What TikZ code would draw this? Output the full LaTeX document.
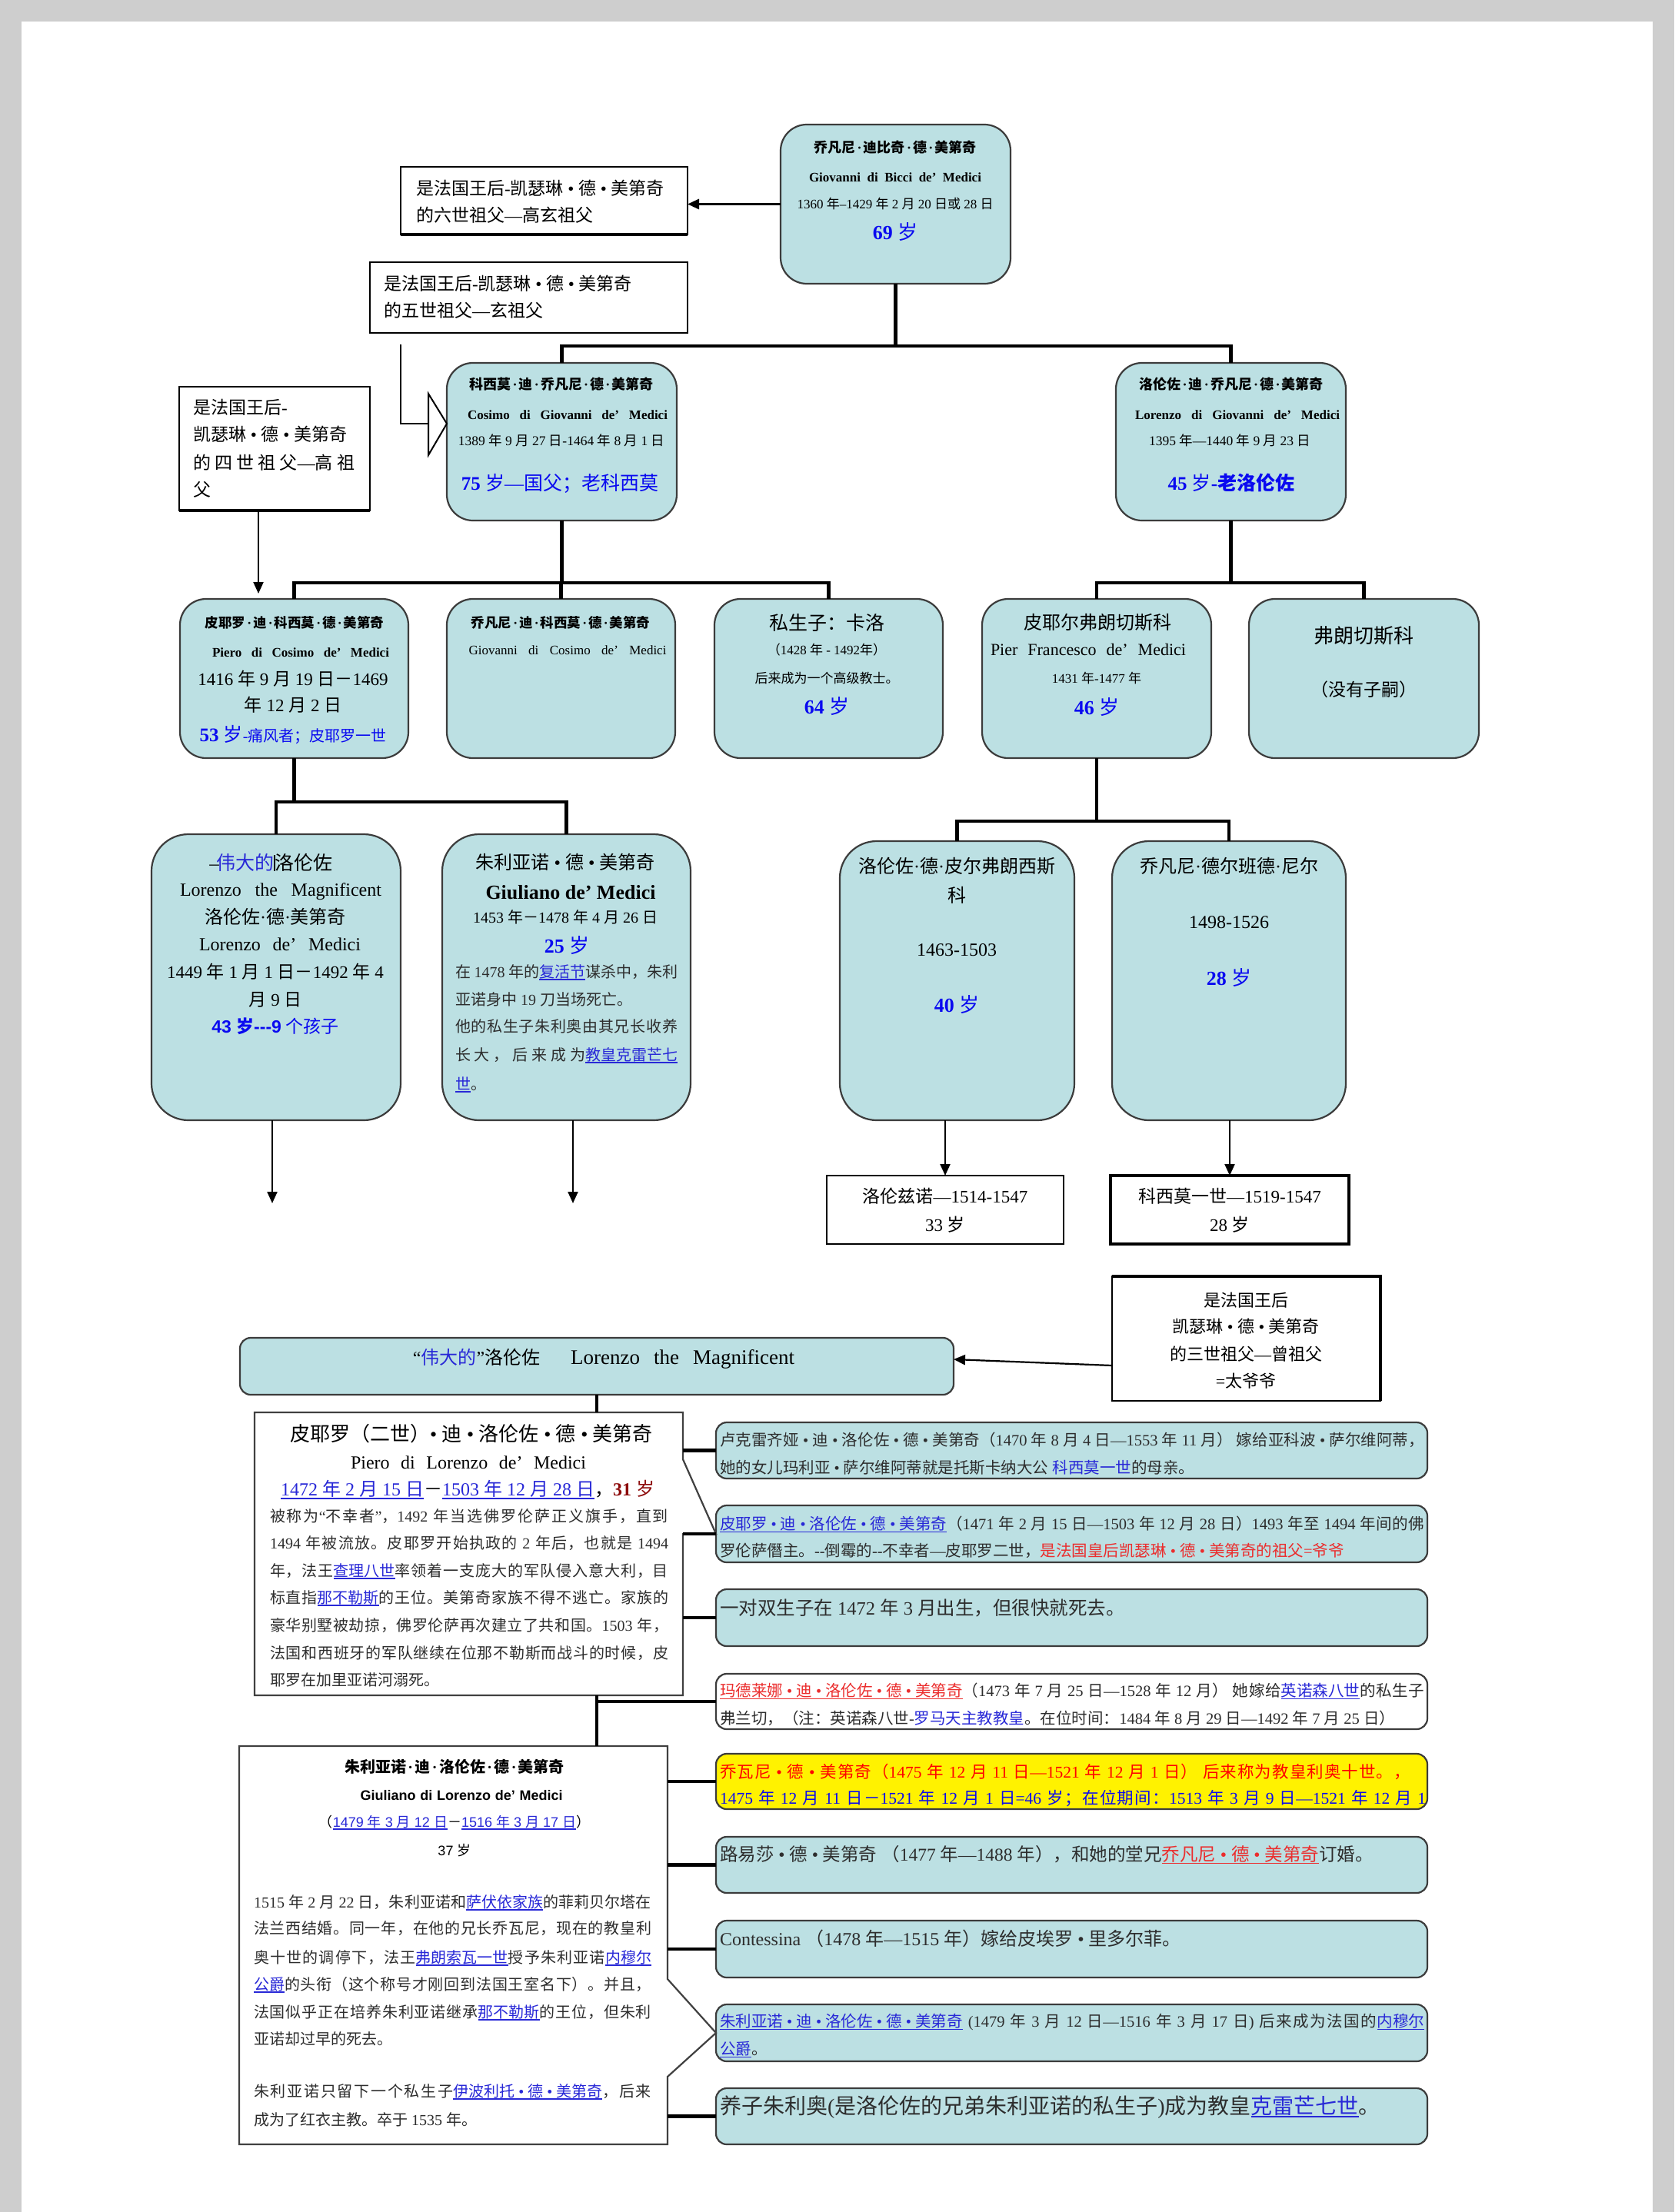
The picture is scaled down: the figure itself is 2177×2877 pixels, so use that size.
\documentclass[tikz,border=0pt]{standalone}
\usepackage{fontspec}
\setmainfont{Liberation Serif}
\setsansfont{Liberation Sans}
\newfontfamily\cjk{Noto Sans CJK SC}
\usetikzlibrary{arrows.meta}
\definecolor{nodefill}{RGB}{188,224,227}
\definecolor{nodedraw}{RGB}{60,60,60}
\definecolor{agblue}{RGB}{10,10,240}
\definecolor{linkblue}{RGB}{40,40,215}
\definecolor{redtxt}{RGB}{235,45,45}
\definecolor{darkred}{RGB}{140,10,10}
\definecolor{pagegray}{RGB}{206,206,206}
\definecolor{txtgray}{RGB}{45,45,45}
\makeatletter
\XeTeXinterchartokenstate=1
\newXeTeXintercharclass\cjkclass
\count@="0000
\loop\XeTeXcharclass\count@=0 \advance\count@\@ne\ifnum\count@<"0300 \repeat
\count@="2000
\loop\XeTeXcharclass\count@=0 \advance\count@\@ne\ifnum\count@<"2C00 \repeat
\count@="3000
\loop\XeTeXcharclass\count@=\cjkclass\advance\count@\@ne\ifnum\count@<"3040 \repeat
\count@="4E00
\loop\XeTeXcharclass\count@=\cjkclass\advance\count@\@ne\ifnum\count@<"A000 \repeat
\count@="FF00
\loop\XeTeXcharclass\count@=\cjkclass\advance\count@\@ne\ifnum\count@<"FFF0 \repeat
\makeatother
\def\latinfont{\rmfamily}
\XeTeXinterchartoks 0 \cjkclass = {\cjk}
\XeTeXinterchartoks 4095 \cjkclass = {\cjk}
\XeTeXinterchartoks \cjkclass 0 = {\latinfont}
\XeTeXinterchartoks \cjkclass 4095 = {\latinfont}
\XeTeXinterchartoks \cjkclass \cjkclass = {\hskip 0pt plus 2pt\relax}
\newsavebox\myulbox
\newcommand\myul[1]{\sbox\myulbox{#1}\rlap{\rule[-0.17em]{\wd\myulbox}{0.06em}}\usebox\myulbox}
\newcommand\lk[1]{\textcolor{linkblue}{\myul{#1}}}
\newcommand\dt{\kern0.12em·\kern0.12em}
\newcommand\BX[6]{\node[#1, minimum width={(#5)-(#3)}, minimum height={(#6)-(#4)}] (#2) at ({((#3)+(#5))/2},{((#4)+(#6))/2}) {};}
\newcommand\TL[6]{\node[tx, font=\fontsize{#5}{#5}\selectfont, #1] (#2) at ({#3},{(#4)+0.36*(#5)}) {#6};}
\begin{document}
\begin{tikzpicture}[x=1pt,y=-1pt,
 bx/.style={draw=nodedraw, line width=2.2pt, fill=nodefill, rounded corners=34pt, inner sep=0pt, outer sep=0pt},
 bxl/.style={bx, rounded corners=48pt},
 rbx/.style={bx, rounded corners=14pt},
 note/.style={draw=black, line width=2pt, fill=white, inner sep=0pt, outer sep=0pt},
 hold/.style={inner sep=0pt, outer sep=0pt},
 callout/.style={draw=black!75, line width=2.2pt, fill=white},
 conn/.style={draw=black, line width=4.5pt},
 thin/.style={draw=black, line width=2pt},
 arr/.style={draw=black, line width=2.2pt, -{Triangle[length=15pt,width=13pt]}},
 tx/.style={inner sep=0pt, outer sep=0pt, anchor=base},
 lft/.style={anchor=base west}]
\useasboundingbox (0,0) rectangle (2177,2877);
\fill[pagegray] (0,0) rectangle (2177,2877);
\fill[white] (28,28) rectangle (2149,2877);
\coordinate (yA) at (0,450);
\coordinate (yB) at (0,758);
\coordinate (yC) at (0,1043);
\coordinate (yD) at (0,1068);
\coordinate (yE) at (0,1898);
\coordinate (yF) at (0,2574);
\coordinate (yG) at (0,2701);
% ---------- boxes ----------
\BX{bx}{g0}{1015}{162}{1314}{369}
\BX{note}{n1}{521}{217}{894}{305}
\BX{note}{n2}{481}{341}{894}{433}
\BX{note}{n3}{233}{503}{481}{664}
\BX{bx}{cos}{581}{472}{880}{677}
\BX{bx}{lg}{1451}{472}{1750}{677}
\BX{bx}{pie}{234}{779}{531}{986}
\BX{bx}{gvc}{581}{779}{878}{986}
\BX{bx}{car}{929}{779}{1226}{986}
\BX{bx}{pfr}{1277}{779}{1575}{986}
\BX{bx}{fra}{1624}{779}{1923}{986}
\BX{bxl}{lm}{197}{1085}{521}{1457}
\BX{bxl}{gl}{575}{1085}{898}{1457}
\BX{bxl}{lp}{1092}{1094}{1397}{1457}
\BX{bxl}{gb}{1446}{1094}{1750}{1457}
\BX{note}{lz}{1075}{1529}{1383}{1618}
\BX{note, line width=3.5pt}{kx}{1444}{1529}{1754}{1618}
\BX{note}{n4}{1446}{1660}{1795}{1822}
\BX{bx, rounded corners=14pt}{bar}{312}{1740}{1240}{1814}
\BX{rbx}{r1}{931}{1850}{1856}{1923}
\BX{rbx}{r2}{931}{1958}{1856}{2032}
\BX{rbx}{r3}{931}{2067}{1856}{2141}
\BX{rbx, fill=white}{r4}{931}{2177}{1856}{2249}
\BX{rbx, fill=yellow}{r5}{931}{2281}{1856}{2353}
\BX{rbx}{r6}{931}{2389}{1856}{2462}
\BX{rbx}{r7}{931}{2498}{1856}{2572}
\BX{rbx}{r8}{931}{2607}{1856}{2681}
\BX{rbx}{r9}{931}{2716}{1856}{2789}
\BX{hold}{pr}{331}{1837}{888}{2205}
\BX{hold}{gj}{311}{2271}{868}{2789}
\draw[line width=4pt] (n1.south west) -- (n1.south east);
\draw[line width=4pt] (n3.south west) -- (n3.south east);
\draw[line width=4.5pt] (n4.north west) -- (n4.north east) -- (n4.south east);
\draw[callout] (pr.north west) -- (pr.north east) -- (pr.east |- yE) -- (r2.west) -- (pr.east |- r2.west) -- (pr.south east) -- (pr.south west) -- cycle;
\draw[callout] (gj.north west) -- (gj.north east) -- (gj.east |- yF) -- (r8.west) -- (gj.east |- yG) -- (gj.south east) -- (gj.south west) -- cycle;
% ---------- texts ----------
\TL{}{g0a}{1164}{192}{18}{\bfseries 乔凡尼\dt 迪比奇\dt 德\dt 美第奇}
\TL{}{g0b}{1164}{230}{17}{\bfseries\hbox to 224pt{Giovanni\hfil di\hfil Bicci\hfil de'\hfil Medici}}
\TL{}{g0c}{1164}{265}{17}{1360 年–1429 年 2 月 20 日或 28 日}
\TL{}{g0d}{1164}{302}{26}{\color{agblue}\bfseries 69 \mdseries 岁}
\TL{lft}{n1a}{541}{245}{23}{是法国王后-凯瑟琳 • 德 • 美第奇}
\TL{lft}{n1b}{541}{280}{23}{的六世祖父—高玄祖父}
\TL{lft}{n2a}{499}{369}{23}{是法国王后-凯瑟琳 • 德 • 美第奇}
\TL{lft}{n2b}{499}{404}{23}{的五世祖父—玄祖父}
\TL{lft}{n3a}{251}{530}{23}{是法国王后-}
\TL{lft}{n3b}{251}{565}{23}{凯瑟琳 • 德 • 美第奇}
\TL{lft}{n3c}{251}{602}{23}{\hbox to 210pt{的四世祖父—高祖}}
\TL{lft}{n3d}{251}{637}{23}{父}
\TL{}{cos1}{730}{500}{18}{\bfseries 科西莫\dt 迪\dt 乔凡尼\dt 德\dt 美第奇}
\TL{}{cos2}{738}{539}{17}{\bfseries\hbox to 260pt{Cosimo\hfil di\hfil Giovanni\hfil de'\hfil Medici}}
\TL{}{cos3}{730}{573}{17.5}{1389 年 9 月 27 日-1464 年 8 月 1 日}
\TL{}{cos4}{728}{628}{25}{\color{agblue}\bfseries 75 \mdseries 岁—国父；老科西莫}
\TL{}{lg1}{1601}{500}{18}{\bfseries 洛伦佐\dt 迪\dt 乔凡尼\dt 德\dt 美第奇}
\TL{}{lg2}{1609}{539}{17}{\bfseries\hbox to 266pt{Lorenzo\hfil di\hfil Giovanni\hfil de'\hfil Medici}}
\TL{}{lg3}{1599}{573}{17.5}{1395 年—1440 年 9 月 23 日}
\TL{}{lg4}{1601}{628}{25}{\color{agblue}\bfseries 45 \mdseries 岁\bfseries -老洛伦佐}
\TL{}{pie1}{383}{810}{17.5}{\bfseries 皮耶罗\dt 迪\dt 科西莫\dt 德\dt 美第奇}
\TL{}{pie2}{391}{848}{17}{\bfseries\hbox to 230pt{Piero\hfil di\hfil Cosimo\hfil de'\hfil Medici}}
\TL{}{pie3}{381}{883}{23}{1416 年 9 月 19 日－1469}
\TL{}{pie4}{381}{917}{23}{年 12 月 2 日}
\TL{}{pie5}{381}{957}{20}{\color{agblue}{\fontsize{25}{25}\selectfont\bfseries 53 \mdseries 岁}-痛风者；皮耶罗一世}
\TL{}{gvc1}{729}{810}{17.5}{\bfseries 乔凡尼\dt 迪\dt 科西莫\dt 德\dt 美第奇}
\TL{}{gvc2}{738}{845}{17}{\hbox to 257pt{Giovanni\hfil di\hfil Cosimo\hfil de’\hfil Medici}}
\TL{}{car1}{1075}{810}{25}{私生子：卡洛}
\TL{}{car2}{1075}{845}{17}{（1428 年 - 1492年）}
\TL{}{car3}{1075}{882}{17}{后来成为一个高级教士。}
\TL{}{car4}{1075}{919}{26}{\color{agblue}\bfseries 64 \mdseries 岁}
\TL{}{pfr1}{1427}{810}{24}{皮耶尔弗朗切斯科}
\TL{}{pfr2}{1415}{845}{22}{\hbox to 254pt{Pier\hfil Francesco\hfil de’\hfil Medici}}
\TL{}{pfr3}{1426}{882}{17}{1431 年-1477 年}
\TL{}{pfr4}{1426}{920}{26}{\color{agblue}\bfseries 46 \mdseries 岁}
\TL{}{fra1}{1773}{827}{26}{弗朗切斯科}
\TL{}{fra2}{1773}{897}{23}{（没有子嗣）}
\TL{}{lm1}{357}{1122}{25}{\rlap{\kern-0.35em –}\textcolor{linkblue}{伟大的}\rule[-0.08em]{0.07em}{0.85em}洛伦佐}
\TL{}{lm2}{365}{1157}{24}{\hbox to 262pt{Lorenzo\hfil the\hfil Magnificent}}
\TL{}{lm3}{358}{1193}{24}{洛伦佐·德·美第奇}
\TL{}{lm4}{364}{1228}{24}{\hbox to 210pt{Lorenzo\hfil de'\hfil Medici}}
\TL{}{lm5}{358}{1264}{23}{1449 年 1 月 1 日－1492 年 4}
\TL{}{lm6}{358}{1300}{23}{月 9 日}
\TL{}{lm7}{358}{1335}{23}{\color{agblue}{\def\latinfont{\sffamily}\sffamily\bfseries 43 岁-{}-{}-9} 个孩子}
\TL{}{gl1}{735}{1122}{24}{朱利亚诺 • 德 • 美第奇}
\TL{}{gl2}{742}{1160}{26}{\bfseries Giuliano de' Medici}
\TL{}{gl3}{735}{1193}{20}{1453 年－1478 年 4 月 26 日}
\TL{}{gl4}{737}{1230}{26}{\color{agblue}\bfseries 25 \mdseries 岁}
\TL{lft}{gl5}{592}{1264}{20}{\color{txtgray}\hbox to 289pt{在 1478 年的\lk{复活节}谋杀中，朱利}}
\TL{lft}{gl6}{592}{1300}{20}{\color{txtgray}亚诺身中 19 刀当场死亡。}
\TL{lft}{gl7}{592}{1335}{20}{\color{txtgray}\hbox to 289pt{他的私生子朱利奥由其兄长收养}}
\TL{lft}{gl8}{592}{1372}{20}{\color{txtgray}\hbox to 289pt{长大，后来成为\lk{教皇克雷芒七}}}
\TL{lft}{gl9}{592}{1410}{20}{\color{txtgray}\lk{世}。}
\TL{}{lp1}{1244}{1127}{24}{洛伦佐·德·皮尔弗朗西斯}
\TL{}{lp2}{1244}{1165}{24}{科}
\TL{}{lp3}{1244}{1235}{24}{1463-1503}
\TL{}{lp4}{1244}{1307}{26}{\color{agblue}\bfseries 40 \mdseries 岁}
\TL{}{gb1}{1598}{1127}{24}{乔凡尼·德尔班德·尼尔}
\TL{}{gb2}{1598}{1199}{24}{1498-1526}
\TL{}{gb3}{1598}{1272}{26}{\color{agblue}\bfseries 28 \mdseries 岁}
\TL{}{lz1}{1229}{1556}{23}{洛伦兹诺—1514-1547}
\TL{}{lz2}{1229}{1593}{23}{33 岁}
\TL{}{kx1}{1599}{1556}{23}{科西莫一世—1519-1547}
\TL{}{kx2}{1599}{1593}{23}{28 岁}
\TL{}{n4a}{1620}{1692}{22}{是法国王后}
\TL{}{n4b}{1620}{1726}{22}{凯瑟琳 • 德 • 美第奇}
\TL{}{n4c}{1620}{1762}{22}{的三世祖父—曾祖父}
\TL{}{n4d}{1620}{1797}{22}{=太爷爷}
\TL{}{bart}{785}{1766}{24}{“\textcolor{linkblue}{伟大的}”洛伦佐\hspace{40pt}{\fontsize{27}{27}\selectfont Lorenzo\hspace{18pt}the\hspace{18pt}Magnificent}}
\TL{}{pr1}{613}{1865}{26}{皮耶罗（二世）• 迪 • 洛伦佐 • 德 • 美第奇}
\TL{}{pr2}{609}{1902}{24}{\hbox to 306pt{Piero\hfil di\hfil Lorenzo\hfil de'\hfil Medici}}
\TL{}{pr3}{608}{1937}{24}{\lk{1472 年 2 月 15 日}－\lk{1503 年 12 月 28 日}，\textcolor{darkred}{\bfseries 31 \mdseries 岁}}
\TL{lft}{pr4}{351}{1972}{20}{\color{txtgray}\hbox to 518pt{被称为“不幸者”，1492 年当选佛罗伦萨正义旗手，直到}}
\TL{lft}{pr5}{351}{2007}{20}{\color{txtgray}\hbox to 518pt{1494 年被流放。皮耶罗开始执政的 2 年后，也就是 1494}}
\TL{lft}{pr6}{351}{2043}{20}{\color{txtgray}\hbox to 518pt{年，法王\lk{查理八世}率领着一支庞大的军队侵入意大利，目}}
\TL{lft}{pr7}{351}{2078}{20}{\color{txtgray}\hbox to 518pt{标直指\lk{那不勒斯}的王位。美第奇家族不得不逃亡。家族的}}
\TL{lft}{pr8}{351}{2114}{20}{\color{txtgray}\hbox to 518pt{豪华别墅被劫掠，佛罗伦萨再次建立了共和国。1503 年，}}
\TL{lft}{pr9}{351}{2150}{20}{\color{txtgray}\hbox to 518pt{法国和西班牙的军队继续在位那不勒斯而战斗的时候，皮}}
\TL{lft}{pr10}{351}{2185}{20}{\color{txtgray}耶罗在加里亚诺河溺死。}
\TL{}{gj1}{591}{2298}{20}{\bfseries 朱利亚诺\dt 迪\dt 洛伦佐\dt 德\dt 美第奇}
\TL{}{gj2}{600}{2335}{18}{\sffamily\bfseries\hbox to 263pt{Giuliano\hfil di\hfil Lorenzo\hfil de'\hfil Medici}}
\TL{}{gj3}{591}{2370}{18}{\def\latinfont{\sffamily}\sffamily （\lk{1479 年 3 月 12 日}－\lk{1516 年 3 月 17 日}）}
\TL{}{gj4}{591}{2407}{18}{\def\latinfont{\sffamily}\sffamily 37 岁}
\TL{lft}{gj5}{330}{2474}{20}{\color{txtgray}\hbox to 517pt{1515 年 2 月 22 日，朱利亚诺和\lk{萨伏依家族}的菲莉贝尔塔在}}
\TL{lft}{gj6}{330}{2508}{20}{\color{txtgray}\hbox to 517pt{法兰西结婚。同一年，在他的兄长乔瓦尼，现在的教皇利}}
\TL{lft}{gj7}{330}{2546}{20}{\color{txtgray}\hbox to 517pt{奥十世的调停下，法王\lk{弗朗索瓦一世}授予朱利亚诺\lk{内穆尔}}}
\TL{lft}{gj8}{330}{2581}{20}{\color{txtgray}\hbox to 517pt{\lk{公爵}的头衔（这个称号才刚回到法国王室名下）。并且，}}
\TL{lft}{gj9}{330}{2617}{20}{\color{txtgray}\hbox to 517pt{法国似乎正在培养朱利亚诺继承\lk{那不勒斯}的王位，但朱利}}
\TL{lft}{gj10}{330}{2652}{20}{\color{txtgray}亚诺却过早的死去。}
\TL{lft}{gj11}{330}{2720}{20}{\color{txtgray}\hbox to 517pt{朱利亚诺只留下一个私生子\lk{伊波利托 • 德 • 美第奇}，后来}}
\TL{lft}{gj12}{330}{2757}{20}{\color{txtgray}成为了红衣主教。卒于 1535 年。}
\TL{lft}{r1a}{936}{1873}{20.5}{\color{txtgray}\hbox to 916pt{卢克雷齐娅 • 迪 • 洛伦佐 • 德 • 美第奇（1470 年 8 月 4 日—1553 年 11 月） 嫁给亚科波 • 萨尔维阿蒂，}}
\TL{lft}{r1b}{936}{1909}{20.5}{\color{txtgray}她的女儿玛利亚 • 萨尔维阿蒂就是托斯卡纳大公 \textcolor{linkblue}{科西莫一世}的母亲。}
\TL{lft}{r2a}{936}{1982}{20.5}{\color{txtgray}\hbox to 916pt{\lk{皮耶罗 • 迪 • 洛伦佐 • 德 • 美第奇}（1471 年 2 月 15 日—1503 年 12 月 28 日）1493 年至 1494 年间的佛}}
\TL{lft}{r2b}{936}{2017}{20.5}{\color{txtgray}罗伦萨僭主。-{}-倒霉的-{}-不幸者—皮耶罗二世，\textcolor{redtxt}{是法国皇后凯瑟琳 • 德 • 美第奇的祖父=爷爷}}
\TL{lft}{r3a}{936}{2092}{24.5}{\color{txtgray}一对双生子在 1472 年 3 月出生，但很快就死去。}
\TL{lft}{r4a}{936}{2199}{20.5}{\color{txtgray}\hbox to 916pt{\textcolor{redtxt}{\myul{玛德莱娜 • 迪 • 洛伦佐 • 德 • 美第奇}}（1473 年 7 月 25 日—1528 年 12 月） 她嫁给\lk{英诺森八世}的私生子}}
\TL{lft}{r4b}{936}{2235}{20.5}{\color{txtgray}弗兰切，（注：英诺森八世-\textcolor{linkblue}{罗马天主教教皇}。在位时间：1484 年 8 月 29 日—1492 年 7 月 25 日）}
\TL{lft}{r5a}{936}{2305}{21.5}{\color{red}\hbox to 898pt{乔瓦尼 • 德 • 美第奇（1475 年 12 月 11 日—1521 年 12 月 1 日） 后来称为教皇利奥十世。，}}
\TL{lft}{r5b}{936}{2339}{21.5}{\color{agblue}\hbox to 918pt{1475 年 12 月 11 日－1521 年 12 月 1 日=46 岁；在位期间：1513 年 3 月 9 日—1521 年 12 月 1}}
\TL{lft}{r6a}{936}{2412}{23.5}{\color{txtgray}路易莎 • 德 • 美第奇 （1477 年—1488 年），和她的堂兄\textcolor{redtxt}{\myul{乔凡尼 • 德 • 美第奇}}订婚。}
\TL{lft}{r7a}{936}{2522}{24}{\color{txtgray}Contessina （1478 年—1515 年）嫁给皮埃罗 • 里多尔菲。}
\TL{lft}{r8a}{936}{2629}{20.5}{\color{txtgray}\hbox to 916pt{\lk{朱利亚诺 • 迪 • 洛伦佐 • 德 • 美第奇} (1479 年 3 月 12 日—1516 年 3 月 17 日) 后来成为法国的\lk{内穆尔}}}
\TL{lft}{r8b}{936}{2665}{20.5}{\color{txtgray}\lk{公爵}。}
\TL{lft}{r9a}{936}{2739}{28}{\color{txtgray}养子朱利奥(是洛伦佐的兄弟朱利亚诺的私生子)成为教皇\lk{克雷芒七世}。}
% ---------- connectors ----------
\draw[arr, line width=3pt] (g0.west) -- (g0.west -| n1.east);
\draw[conn] (g0.south) -- (g0.south |- yA);
\draw[conn] (cos.north) -- (cos.north |- yA) -- (lg.north |- yA) -- (lg.north);
\coordinate (n2s) at (521,448);
\coordinate (n2t) at (557,551);
\draw[thin] (n2s) -- (n2s |- n2t) -- (n2t);
\draw[thin, fill=white] (557,512) -- (581,551) -- (557,592) -- cycle;
\coordinate (n3e) at (336,772);
\draw[arr] (n3.south -| n3e) -- (n3e);
\draw[conn] (cos.south) -- (cos.south |- yB);
\draw[conn] (pie.north) -- (pie.north |- yB) -- (car.north |- yB) -- (car.north);
\draw[conn] (gvc.north) -- (gvc.north |- yB);
\draw[conn] (lg.south) -- (lg.south |- yB);
\draw[conn] (pfr.north) -- (pfr.north |- yB) -- (fra.north |- yB) -- (fra.north);
\draw[conn] (pie.south) -- (pie.south |- yC);
\draw[conn] (lm.north) -- (lm.north |- yC) -- (gl.north |- yC) -- (gl.north);
\draw[conn] (pfr.south) -- (pfr.south |- yD);
\draw[conn] (lp.north) -- (lp.north |- yD) -- (gb.north |- yD) -- (gb.north);
\coordinate (lme) at (354,1565);
\coordinate (gle) at (745,1565);
\draw[arr] (lm.south -| lme) -- (lme);
\draw[arr] (gl.south -| gle) -- (gle);
\draw[arr] (lz.north |- lp.south) -- (lz.north);
\draw[arr] (kx.north |- gb.south) -- (kx.north);
\draw[arr] ([yshift=-35pt]n4.west) -- ([yshift=9pt]bar.east);
\draw[conn] (bar.south) -- (bar.south |- pr.north);
\draw[conn] (bar.south |- pr.south) -- (bar.south |- gj.north);
\draw[conn] (bar.south |- r4.west) -- (r4.west);
\draw[conn] (pr.east |- r1.west) -- (r1.west);
\draw[conn] (pr.east |- r2.west) -- (r2.west);
\draw[conn] (pr.east |- r3.west) -- (r3.west);
\draw[conn] (gj.east |- r5.west) -- (r5.west);
\draw[conn] (gj.east |- r6.west) -- (r6.west);
\draw[conn] (gj.east |- r7.west) -- (r7.west);
\draw[conn] (gj.east |- r9.west) -- (r9.west);
\end{tikzpicture}
\end{document}
